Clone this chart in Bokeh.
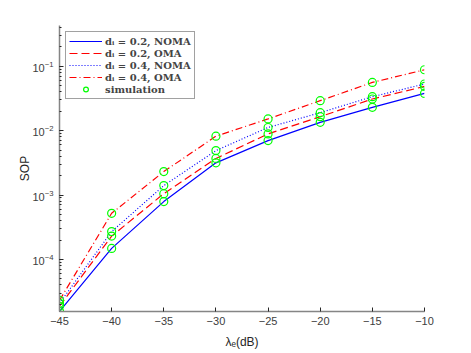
from bokeh.plotting import figure
from bokeh.models import Range1d, Legend, LegendItem, FixedTicker
from bokeh.embed import file_html
from bokeh.resources import INLINE

lambda_e = [-45, -40, -35, -30, -25, -20, -15, -10]

# theoretical curves
noma_02 = [1.56e-5, 1.48e-4, 7.9e-4, 3.16e-3, 7.0e-3, 1.345e-2, 2.3e-2, 3.79e-2]
oma_02 = [1.87e-5, 2.3e-4, 1.05e-3, 3.7e-3, 8.9e-3, 1.65e-2, 3.1e-2, 4.86e-2]
noma_04 = [2.08e-5, 2.7e-4, 1.40e-3, 4.9e-3, 1.12e-2, 1.90e-2, 3.37e-2, 5.3e-2]
oma_04 = [2.31e-5, 5.2e-4, 2.31e-3, 8.2e-3, 1.52e-2, 2.92e-2, 5.61e-2, 8.83e-2]

# simulation points
sim_noma_02 = [1.56e-5, 1.48e-4, 7.9e-4, 3.16e-3, 7.0e-3, 1.345e-2, 2.3e-2, 3.79e-2]
sim_oma_02 = [1.87e-5, 2.3e-4, 1.05e-3, 3.7e-3, 8.9e-3, 1.65e-2, 3.1e-2, 4.86e-2]
sim_noma_04 = [2.08e-5, 2.7e-4, 1.40e-3, 4.9e-3, 1.12e-2, 1.90e-2, 3.37e-2, 5.3e-2]
sim_oma_04 = [2.31e-5, 5.2e-4, 2.31e-3, 8.2e-3, 1.52e-2, 2.92e-2, 5.61e-2, 8.83e-2]

x_ticks = [-45, -40, -35, -30, -25, -20, -15, -10]
labels = ["d\u1d62 = 0.2, NOMA", "d\u1d62 = 0.2, OMA", "d\u1d62 = 0.4, NOMA",
          "d\u1d62 = 0.4, OMA", "simulation"]

p = figure(output_backend="svg", toolbar_location=None, y_axis_type="log",
           frame_width=365, frame_height=286,
           min_border_left=59, min_border_top=25, min_border_right=24, min_border_bottom=30,
           x_range=Range1d(-45, -10), y_range=Range1d(1.55e-5, 0.43))

p.grid.visible = False
p.outline_line_color = None

l1 = p.line(lambda_e, noma_02, line_color="#0000ff", line_width=1.2)
l2 = p.line(lambda_e, oma_02, line_color="#ff0000", line_width=1.2, line_dash="8 4")
l3 = p.line(lambda_e, noma_04, line_color="#0000ff", line_width=1.2, line_dash="1 2")
l4 = p.line(lambda_e, oma_04, line_color="#ff0000", line_width=1.2, line_dash="7 3 1 3")
c = None
for arr in (sim_noma_02, sim_oma_02, sim_noma_04, sim_oma_04):
    c = p.scatter(lambda_e, arr, marker="circle", size=8, fill_color=None,
                  line_color="#00ff00", line_width=1.2)

for ax in (p.xaxis[0], p.yaxis[0]):
    ax.axis_line_color = "#858585"
    ax.axis_line_width = 1.5
    ax.major_tick_line_color = "#262626"
    ax.minor_tick_line_color = "#262626"
    ax.major_tick_in = 4
    ax.major_tick_out = 0
    ax.minor_tick_in = 2
    ax.minor_tick_out = 0
    ax.major_label_text_font = "Liberation Sans"
    ax.major_label_text_font_size = "11px"
    ax.major_label_text_color = "#404040"
    ax.axis_label_text_font = "Liberation Sans"
    ax.axis_label_text_font_size = "12px"
    ax.axis_label_text_font_style = "normal"
    ax.axis_label_text_color = "#262626"

p.xaxis.ticker = FixedTicker(ticks=x_ticks)
p.xaxis.minor_tick_line_color = None
p.xaxis.axis_label = "\u03bb\u2091(dB)"
p.xaxis.major_label_standoff = 5
p.xaxis.axis_label_standoff = 7
p.yaxis.axis_label = "SOP"
p.yaxis.major_label_standoff = 6
p.yaxis.axis_label_standoff = -3

legend = Legend(items=[
    LegendItem(label=labels[0], renderers=[l1]),
    LegendItem(label=labels[1], renderers=[l2]),
    LegendItem(label=labels[2], renderers=[l3]),
    LegendItem(label=labels[3], renderers=[l4]),
    LegendItem(label=labels[4], renderers=[c]),
], location="top_left")
legend.label_text_font = "DejaVu Serif"
legend.label_text_font_size = "10px"
legend.label_text_font_style = "bold"
legend.label_height = 12
legend.glyph_height = 12
legend.glyph_width = 33
legend.label_standoff = 3
legend.spacing = 0
legend.padding = 3
legend.margin = 6
legend.border_line_color = "#444444"
legend.border_line_width = 1.2
legend.background_fill_alpha = 1.0
p.add_layout(legend)

open("out.html", "w").write(file_html(p, INLINE))
